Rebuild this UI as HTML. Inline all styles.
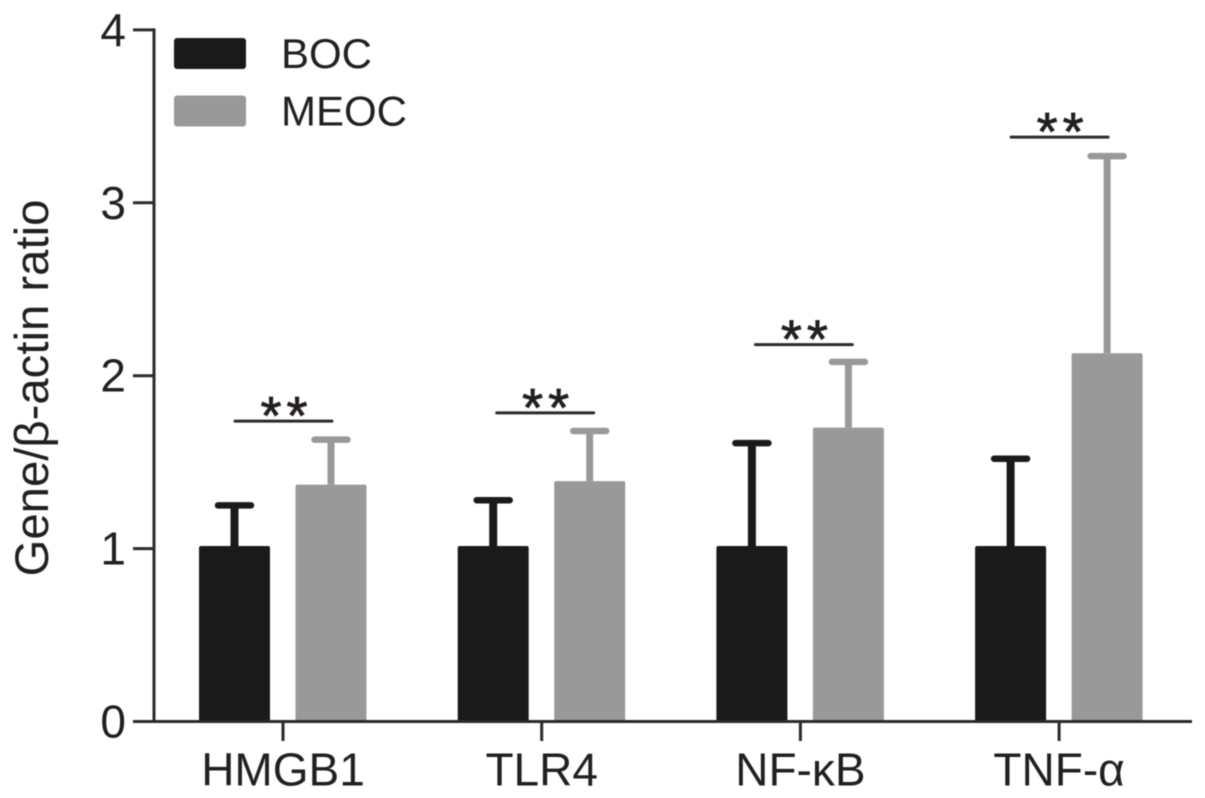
<!DOCTYPE html>
<html>
<head>
<meta charset="utf-8">
<style>
html,body{margin:0;padding:0;background:#fff;}
svg{display:block;filter:blur(0.5px);}
text{font-family:"Liberation Sans",sans-serif;fill:#231f20;}
</style>
</head>
<body>
<svg id="chart" width="1205" height="798" viewBox="0 0 1205 798" xmlns="http://www.w3.org/2000/svg"></svg>
<script>
const categories = ["HMGB1", "TLR4", "NF-κB", "TNF-α"];
const seriesNames = ["BOC", "MEOC"];
const bocValues = [1.015, 1.015, 1.015, 1.015];
const meocValues = [1.37, 1.39, 1.70, 2.13];
const bocErrorTops = [1.25, 1.28, 1.61, 1.52];
const meocErrorTops = [1.63, 1.68, 2.08, 3.27];
const significanceLevels = [1.737, 1.785, 2.18, 3.38];
const significanceLabels = ["**", "**", "**", "**"];
const yTicks = [0, 1, 2, 3, 4];

const svg = document.getElementById('chart');
const NS = 'http://www.w3.org/2000/svg';
const INK = '#2b2b2b';
const BLACK = '#1a1a1a';
const GREY = '#999999';

function yScale(v) { return 721.5 - v * 172.9; }
function groupCenter(i) { return 283 + i * 258.7; }
function sigCenter(i) { return groupCenter(i) + (i === 1 || i === 2 ? 3.5 : 0.5); }

function make(tag, attrs, text) {
  const el = document.createElementNS(NS, tag);
  for (const k in attrs) el.setAttribute(k, attrs[k]);
  if (text !== undefined) el.textContent = text;
  svg.appendChild(el);
  return el;
}
function line(x1, y1, x2, y2, color, w, cap) {
  return make('line', {x1: x1, y1: y1, x2: x2, y2: y2, stroke: color, 'stroke-width': w, 'stroke-linecap': cap || 'butt'});
}

function drawBar(cx, value, errTop, color, key, stemWidth) {
  const top = yScale(value);
  const errY = yScale(errTop);
  const stem = line(cx, top, cx, errY, color, stemWidth);
  
  
  const cap = line(cx - 16.5, errY, cx + 16.5, errY, color, 6.5, 'round');
  
  
  const bar = make('rect', {x: cx - 35.5, y: top, width: 71, height: yScale(0) - top, rx: 2, fill: color});
  
  
}

categories.forEach(function (cat, i) {
  const c = groupCenter(i);
  const slug = cat.toLowerCase();
  drawBar(c - 48.5, bocValues[i], bocErrorTops[i], BLACK, slug + '-boc', 8);
  drawBar(c + 48, meocValues[i], meocErrorTops[i], GREY, slug + '-meoc', 7);

  const sc = sigCenter(i);
  const sy = yScale(significanceLevels[i]);
  const sig = line(sc - 48.5, sy, sc + 48.5, sy, INK, 3, 'round');
  
  
  const star = make('text', {x: sc + 3, y: sy + 13, 'text-anchor': 'middle', 'font-size': 54, 'letter-spacing': 5, stroke: '#231f20', 'stroke-width': 0.8}, significanceLabels[i]);
  
  

  const tick = line(c, 721.5, c, 741, INK, 3);
  
  
  const lab = make('text', {x: c, y: 785.5, 'text-anchor': 'middle', 'font-size': 46}, cat);
  
  
});

const xAxis = line(133, 721.5, 1192, 721.5, INK, 3);


const yAxis = line(154, yScale(4) - 1.5, 154, 723, INK, 3);



yTicks.forEach(function (t) {
  const y = yScale(t);
  const tk = line(133, y, 154, y, INK, 3);
  
  
  const lb = make('text', {x: 126, y: y + 16, 'text-anchor': 'end', 'font-size': 46}, String(t));
  
  
});

const yTitle = make('text', {x: 0, y: 0, transform: 'translate(48 388) rotate(-90)', 'text-anchor': 'middle', 'font-size': 47.3}, 'Gene/β-actin ratio');



[BLACK, GREY].forEach(function (color, i) {
  const y = 38 + i * 57.5;
  const sw = make('rect', {x: 174, y: y, width: 72, height: 31, rx: 3, fill: color});
  
  
  const tx = make('text', {x: 281, y: y + 30, 'font-size': 42}, seriesNames[i]);
  
  
});
</script>
</body>
</html>
